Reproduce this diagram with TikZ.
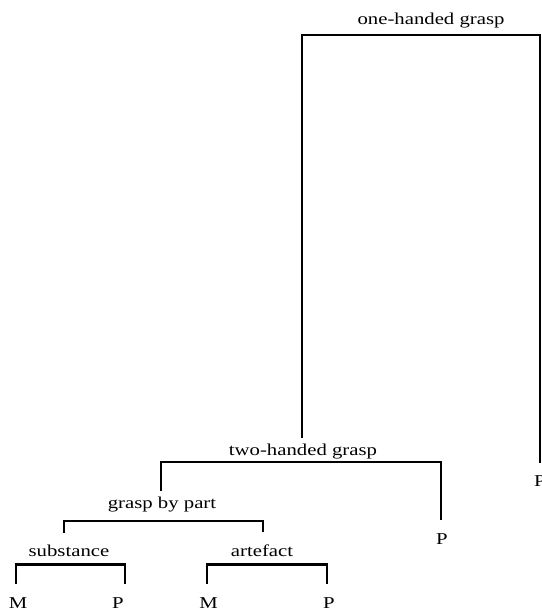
\documentclass[tikz,border=0pt]{standalone}
\usepackage{fontspec}
\setmainfont[FakeStretch=1.25]{Liberation Serif}
\newcommand\lbfont{\fontsize{16.6}{20}\selectfont}
\begin{document}
\begin{tikzpicture}[x=1pt,y=-1pt,
  lbl/.style={anchor=base, inner sep=0pt, font=\lbfont},
  br/.style={line width=2.8pt, line join=miter}]
\useasboundingbox (0,0) rectangle (541,609);
% labels
\node[lbl] (one) at (431,25) {one-handed grasp};
\node[lbl] (two) at (303,455) {two-handed grasp};
\node[lbl] (P1) at (540,486) {P};
\node[lbl] (gbp) at (162,508) {grasp by part};
\node[lbl] (P2) at (442,544) {P};
\node[lbl] (sub) at (69,556) {substance};
\node[lbl] (art) at (262,556) {artefact};
\node[lbl] (M1) at (18,608) {M};
\node[lbl] (P3) at (118,608) {P};
\node[lbl] (M2) at (208.5,608) {M};
\node[lbl] (P4) at (329,608) {P};
% brackets
\draw[br] ([xshift=-1pt,yshift=5.7pt]two.north) |- ([yshift=-10pt]one.base) -| ([yshift=12pt]P1.north);
\draw[br] ([xshift=-1pt,yshift=5.7pt]gbp.north) |- ([yshift=-7pt]two.base) -| ([xshift=-1pt,yshift=13pt]P2.north);
\draw[br] ([xshift=-5pt,yshift=11.7pt]sub.north) |- ([yshift=-13pt]gbp.base) -| ([xshift=1pt,yshift=11.7pt]art.north);
\draw[br] ([xshift=-2pt,yshift=13pt]M1.north) |- ([yshift=-8.5pt]sub.base) -| ([xshift=7pt,yshift=13pt]P3.north);
\draw[br] ([xshift=-1.5pt,yshift=13pt]M2.north) |- ([yshift=-8.5pt]art.base) -| ([xshift=-2pt,yshift=13pt]P4.north);
\end{tikzpicture}
\end{document}
